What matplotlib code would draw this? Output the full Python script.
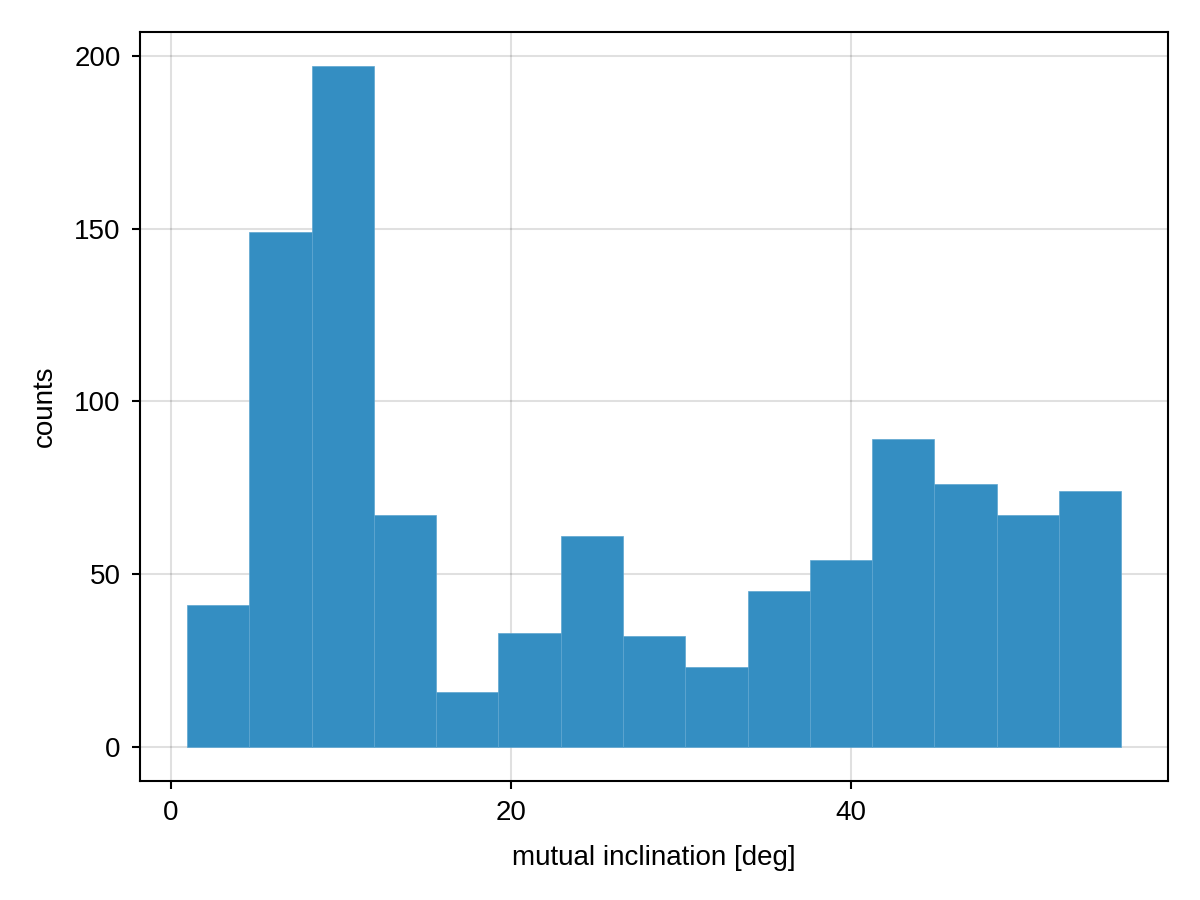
import numpy as np
import matplotlib.pyplot as plt

plt.rcParams['font.family'] = ['Liberation Sans', 'DejaVu Sans']

# histogram bins (deg) and counts
bin_start = 0.94
bin_width = 3.664
counts = [41, 149, 197, 67, 16, 33, 61, 32, 23, 45, 54, 89, 76, 67, 74]

edges = bin_start + bin_width * np.arange(len(counts) + 1)

fig = plt.figure(figsize=(12, 9), dpi=100)
ax = fig.add_axes([0.1167, 0.1322, 0.8566, 0.8322])

ax.bar(edges[:-1], counts, width=bin_width, align='edge',
       color='#348EC2', edgecolor='#5EA6D0', linewidth=0.5, zorder=3)

ax.set_xlim(-1.82, 58.65)
ax.set_ylim(-9.85, 206.85)
ax.set_xticks([0, 20, 40])
ax.set_yticks([0, 50, 100, 150, 200])
ax.grid(True, color='black', alpha=0.12, linewidth=1.5, zorder=0)
ax.set_axisbelow(True)

for s in ax.spines.values():
    s.set_linewidth(1.5)
ax.tick_params(direction='out', length=6, width=1.5, labelsize=20, pad=8)

ax.set_xlabel('mutual inclination [deg]', fontsize=20, labelpad=13)
ax.set_ylabel('counts', fontsize=20, labelpad=12)

fig.savefig('out.png', dpi=100)
